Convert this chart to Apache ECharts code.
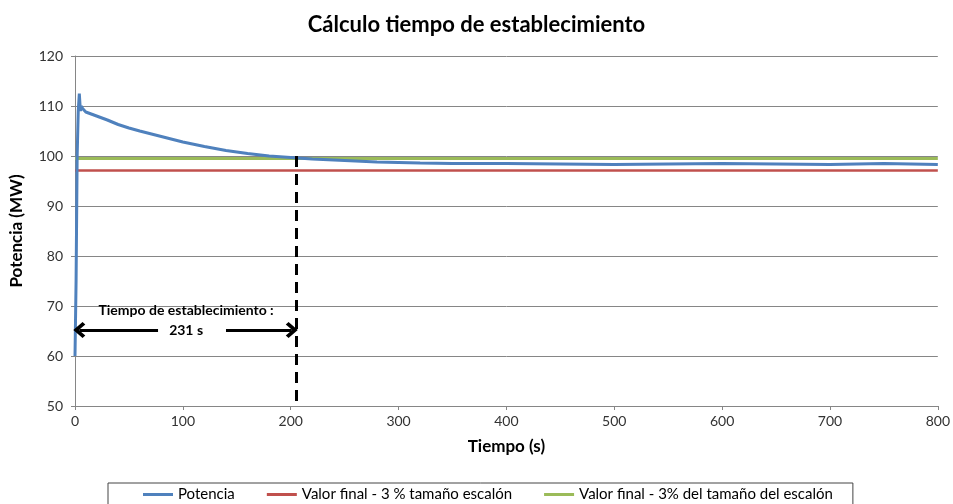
<!DOCTYPE html>
<html><head><meta charset="utf-8">
<script src="https://cdn.jsdelivr.net/npm/echarts@6/dist/echarts.min.js"></script>
<style>html,body{margin:0;padding:0;background:#fff}#c{width:953px;height:504px}</style>
</head><body><div id="c"></div>
<script>
const tiempo = [0, 1, 2, 3, 4, 5, 6, 7, 8, 10, 15, 20, 30, 40, 50, 60, 80, 100, 120, 140, 160, 180, 200, 220, 240, 260, 280, 300, 320, 350, 400, 450, 500, 550, 600, 650, 700, 750, 800];
const potencia = [60, 75, 100, 109, 112.5, 109, 110, 109.5, 109.2, 108.8, 108.4, 108, 107.2, 106.3, 105.6, 105, 103.9, 102.8, 101.9, 101.1, 100.5, 100.0, 99.7, 99.4, 99.2, 99.0, 98.8, 98.7, 98.6, 98.5, 98.5, 98.4, 98.3, 98.4, 98.5, 98.4, 98.3, 98.5, 98.3];
const valorRojo = 97.1;
const valorVerde = 99.5;
const tEst = 205;
const names = ['Potencia', 'Valor final - 3 % tamaño escalón', 'Valor final - 3% del tamaño del escalón'];
const xTicks = [0, 800, 100];
const yTicks = [50, 120, 10];

const font = 'Lato, "Open Sans", sans-serif';
const chev = 'path://M0,10 L10,0 L20,10 L17,13 L10,6 L3,13 Z';
const chart = echarts.init(document.getElementById('c'));
chart.setOption({
  animation: false,
  textStyle: {fontFamily: font},
  title: {text: 'Cálculo tiempo de establecimiento', left: 'center', top: 9,
    textStyle: {fontSize: 22, fontWeight: 'bold', color: '#000', fontFamily: font}},
  grid: {left: 75, right: 15, top: 56, bottom: 98},
  legend: {top: 483, left: 108, width: 742, padding: [4, 20, 10, 35], itemGap: 32,
    borderColor: '#444', borderWidth: 1, itemWidth: 30, itemHeight: 3, icon: 'rect',
    textStyle: {fontSize: 15, color: '#000', fontFamily: font}, data: names},
  xAxis: {type: 'value', min: xTicks[0], max: xTicks[1], interval: xTicks[2],
    name: 'Tiempo (s)', nameLocation: 'middle', nameGap: 32,
    nameTextStyle: {fontSize: 17, fontWeight: 'bold', color: '#000'},
    axisLine: {lineStyle: {color: '#868686'}}, axisTick: {show: true, length: 4, lineStyle: {color: '#868686'}},
    axisLabel: {fontSize: 14, color: '#333'}, splitLine: {show: false}},
  yAxis: {type: 'value', min: yTicks[0], max: yTicks[1], interval: yTicks[2],
    name: 'Potencia (MW)', nameLocation: 'middle', nameGap: 50,
    nameTextStyle: {fontSize: 17, fontWeight: 'bold', color: '#000'},
    axisLine: {show: true, lineStyle: {color: '#868686'}}, axisTick: {show: true, length: 4, lineStyle: {color: '#868686'}},
    axisLabel: {fontSize: 14, color: '#333', margin: 12}, splitLine: {lineStyle: {color: '#868686'}}},
  series: [
    {name: names[1], type: 'line', symbol: 'none', data: [[xTicks[0], valorRojo], [xTicks[1], valorRojo]],
      lineStyle: {color: '#C0504D', width: 2.5}, itemStyle: {color: '#C0504D'}},
    {name: names[2], type: 'line', symbol: 'none', data: [[xTicks[0], valorVerde], [xTicks[1], valorVerde]],
      lineStyle: {color: '#9BBB59', width: 3}, itemStyle: {color: '#9BBB59'}},
    {name: names[0], type: 'line', symbol: 'none', data: tiempo.map((t, i) => [t, potencia[i]]),
      lineStyle: {color: '#4F81BD', width: 3}, itemStyle: {color: '#4F81BD'}, z: 3,
      markLine: {silent: true, animation: false, label: {show: false},
        data: [
          [{coord: [tEst, 100], symbol: 'none', lineStyle: {type: [11, 7], width: 3, color: '#000'}}, {coord: [tEst, 50], symbol: 'none'}],
          [{coord: [77, 65.2], symbol: 'none', lineStyle: {type: 'solid', width: 3, color: '#000'}}, {coord: [4, 65.2], symbol: chev, symbolSize: [16, 12]}],
          [{coord: [140, 65.2], symbol: 'none', lineStyle: {type: 'solid', width: 3, color: '#000'}}, {coord: [201, 65.2], symbol: chev, symbolSize: [16, 12]}]
        ]},
      markPoint: {silent: true, symbol: 'circle', symbolSize: 0,
        label: {show: true, color: '#000', fontWeight: 'bold', fontSize: 14, fontFamily: font},
        data: [
          {coord: [103, 69.1], value: 'Tiempo de establecimiento :', label: {formatter: 'Tiempo de establecimiento :'}},
          {coord: [103, 65.2], value: '231 s', label: {formatter: '231 s'}}
        ]}
    }
  ]
});
</script></body></html>
